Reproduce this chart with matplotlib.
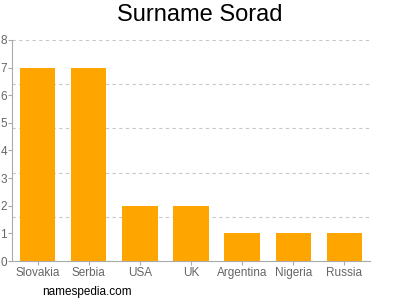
import matplotlib.pyplot as plt
import numpy as np

plt.rcParams["font.family"] = ["Liberation Sans", "DejaVu Sans"]

# Surname counts by country
countries = ["Slovakia", "Serbia", "USA", "UK", "Argentina", "Nigeria", "Russia"]
counts = [7, 7, 2, 2, 1, 1, 1]

fig = plt.figure(figsize=(4, 3), dpi=100)
ax = fig.add_axes([0.03, 0.13, 0.895, 0.737])

x = np.arange(len(countries))
ax.bar(x, counts, width=0.69, color="#FFA500", zorder=2)

ax.set_xlim(-0.5, len(countries) - 0.5)
ax.set_ylim(0, 8)
ax.set_xticks(x)
ax.set_xticklabels(countries)
ax.set_yticks(range(0, 9))

# dashed grid lines, not on the integer ticks
for g in [1.6, 3.2, 4.8, 6.4, 8.0]:
    ax.axhline(g, color="#c8c8c8", linestyle=(0, (3, 3)), linewidth=0.8, zorder=1)

for s in ["top", "right"]:
    ax.spines[s].set_visible(False)
ax.spines["left"].set_color("#aaaaaa")
ax.spines["bottom"].set_color("#aaaaaa")
ax.tick_params(axis="both", colors="#aaaaaa", labelcolor="#666666", labelsize=8.5, length=3)
ax.tick_params(axis="x", pad=1)
ax.tick_params(axis="y", pad=0.5)

fig.text(0.5, 0.95, "Surname Sorad", ha="center", va="center", fontsize=17)
fig.text(0.105, 0.027, "namespedia.com", ha="left", va="center", fontsize=8.5)

fig.savefig("out.png")
